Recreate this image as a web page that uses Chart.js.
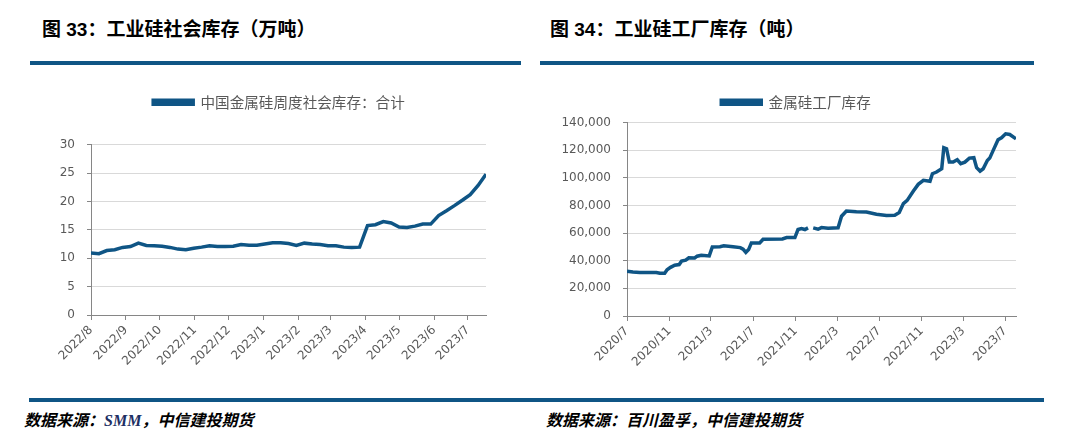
<!DOCTYPE html>
<html>
<head>
<meta charset="utf-8">
<script src="https://cdn.jsdelivr.net/npm/chart.js@4/dist/chart.umd.min.js"></script>
<style>
  body { margin: 0; width: 1074px; height: 438px; background: #fff; position: relative; overflow: hidden; }
  .title { position: absolute; top: 14px; font: bold 19px "Liberation Sans", "Noto Sans CJK SC", sans-serif; color: #000; white-space: nowrap; }
  .rule { position: absolute; height: 4px; background: #0f5585; }
  .source { position: absolute; top: 407px; font: italic bold 16px "Liberation Serif", "Noto Sans CJK SC", serif; color: #000; white-space: nowrap; }
  .source span { color: #1d2f63; }
  .box { position: absolute; }
</style>
</head>
<body>
<div class="title" style="left:42px">图 33：工业硅社会库存（万吨）</div>
<div class="title" style="left:550px">图 34：工业硅工厂库存（吨）</div>
<div class="rule" style="left:30px; top:61px; width:491px"></div>
<div class="rule" style="left:540px; top:61px; width:494px"></div>

<div class="box" style="left:40px; top:85px; width:480px; height:305px"><canvas id="socialChart"></canvas></div>
<div class="box" style="left:560px; top:85px; width:470px; height:305px"><canvas id="factoryChart"></canvas></div>

<div class="rule" style="left:29px; top:398px; width:1015px"></div>
<div class="source" style="left:24px">数据来源：<span>SMM</span>，中信建投期货</div>
<div class="source" style="left:546px">数据来源：百川盈孚，中信建投期货</div>

<script>
// 图33 社会库存, weekly from 2022-08-01 (万吨)
const socialStart = '2022-08-01';
const socialValues = [10.9, 10.8, 11.35, 11.5, 11.9, 12.05, 12.65, 12.25, 12.2, 12.1,
  11.9, 11.6, 11.5, 11.75, 11.95, 12.2, 12.05, 12.05, 12.1, 12.4,
  12.3, 12.3, 12.5, 12.7, 12.7, 12.6, 12.25, 12.65, 12.5, 12.4,
  12.2, 12.2, 11.95, 11.9, 11.95, 15.75, 15.9, 16.45, 16.2, 15.5,
  15.4, 15.65, 16.0, 16.0, 17.5, 18.35, 19.25, 20.2, 21.2, 22.8, 24.8];
const socialTicks = ['2022/8', '2022/9', '2022/10', '2022/11', '2022/12', '2023/1',
  '2023/2', '2023/3', '2023/4', '2023/5', '2023/6', '2023/7'];
const socialLabel = '中国金属硅周度社会库存：合计';

// 图34 工厂库存 (吨)
const factoryStart = '2020-07-01';
const factoryDates = ['2020-07-01', '2020-07-18', '2020-08-07', '2020-09-24', '2020-10-04', '2020-10-18',
  '2020-10-25', '2020-11-04', '2020-11-16', '2020-11-29', '2020-12-06', '2020-12-18', '2020-12-27',
  '2021-01-13', '2021-01-20', '2021-02-01', '2021-02-24', '2021-03-05', '2021-03-27', '2021-04-07',
  '2021-05-04', '2021-05-25', '2021-06-02', '2021-06-10', '2021-06-18', '2021-06-26', '2021-07-20',
  '2021-07-30', '2021-09-24', '2021-10-06', '2021-10-30', '2021-11-08', '2021-11-18', '2021-11-28',
  '2021-12-07', '2021-12-15', '2021-12-22', '2022-01-05', '2022-01-15', '2022-02-03', '2022-03-04',
  '2022-03-14', '2022-03-28', '2022-04-26', '2022-05-25', '2022-06-23', '2022-07-22', '2022-08-15',
  '2022-08-28', '2022-09-09', '2022-09-20', '2022-10-08', '2022-10-22', '2022-11-06', '2022-11-25',
  '2022-12-02', '2022-12-14', '2022-12-29', '2023-01-04', '2023-01-12', '2023-01-20', '2023-01-31',
  '2023-02-12', '2023-02-22', '2023-03-06', '2023-03-19', '2023-04-01', '2023-04-09', '2023-04-19',
  '2023-04-28', '2023-05-10', '2023-05-17', '2023-05-27', '2023-06-10', '2023-06-20', '2023-07-02',
  '2023-07-14', '2023-08-01'];
const factoryValues = [32500, 31800, 31500, 31500, 30900, 30900,
  33500, 35200, 36800, 37200, 39700, 40400, 42100,
  42000, 43300, 44000, 43500, 50000, 50200, 50800,
  50200, 49500, 48400, 46000, 48100, 52900, 52900,
  55600, 55800, 56800, 56800, 62600, 63300, 62600,
  63800, null, 63800, 62800, 64000, 63500, 63800,
  72200, 76000, 75500, 75300, 73600, 72700, 73000,
  74900, 81400, 83700, 90500, 95300, 98200, 97500,
  103000, 104200, 106600, 121800, 121100, 111400, 111400,
  113100, 110300, 111400, 114300, 114600, 107400, 104900,
  106600, 112600, 114300, 119900, 127600, 129000, 131900,
  131400, 128300];
const factoryTicks = ['2020/7', '2020/11', '2021/3', '2021/7', '2021/11', '2022/3',
  '2022/7', '2022/11', '2023/3', '2023/7'];
const factoryLabel = '金属硅工厂库存';

const lineColor = '#0f5585';
const textColor = '#595959';
const axisColor = '#868686';
const gridColor = '#d9d9d9';

function dayOf(str, base) {
  let p = str.split(/[-\/]/).map(Number);
  let b = base.split('-').map(Number);
  return (Date.UTC(p[0], p[1] - 1, p[2] || 1) - Date.UTC(b[0], b[1] - 1, b[2])) / 86400000;
}

// push the plot area down below the legend, and nudge the legend sideways
const legendTweak = {
  id: 'legendTweak',
  beforeInit(chart, args, opts) {
    const legend = chart.legend;
    const fit = legend.fit;
    legend.fit = function () {
      fit.bind(legend)();
      this.height += opts.extra || 0;
    };
    const draw = legend.draw;
    legend.draw = function () {
      const ctx = chart.ctx;
      ctx.save();
      ctx.translate(opts.dx || 0, 0);
      draw.apply(legend, arguments);
      ctx.restore();
    };
  }
};

function makeChart(id, points, label, tickLabels, base, xMax, yMax, yStep, yWidth, xHeight, extra, dx, padRight, yFormat) {
  const tickDays = tickLabels.map(t => dayOf(t, base));
  return new Chart(document.getElementById(id), {
    type: 'line',
    data: {
      datasets: [{
        label: label,
        data: points,
        borderColor: lineColor,
        backgroundColor: lineColor,
        borderWidth: 3.5,
        pointRadius: 0,
        tension: 0,
        spanGaps: false,
      }]
    },
    options: {
      responsive: true,
      maintainAspectRatio: false,
      animation: false,
      layout: { padding: { top: 0, right: padRight, left: 0, bottom: 0 } },
      plugins: {
        legend: {
          position: 'top',
          labels: {
            boxWidth: 40,
            boxHeight: 4,
            color: textColor,
            font: { family: '"Noto Sans CJK SC", sans-serif', size: 14.6 },
            padding: 10,
          }
        },
        legendTweak: { extra: extra, dx: dx },
        tooltip: { enabled: false },
      },
      scales: {
        x: {
          type: 'linear',
          min: 0,
          max: xMax,
          afterBuildTicks: (scale) => {
            scale.ticks = tickDays.map(v => ({ value: v }));
          },
          afterFit: (scale) => { scale.height = xHeight; },
          ticks: {
            autoSkip: false,
            minRotation: 45,
            maxRotation: 45,
            color: textColor,
            font: { family: '"DejaVu Sans", sans-serif', size: 12 },
            callback: (v) => tickLabels[tickDays.indexOf(v)],
          },
          grid: { drawOnChartArea: false, drawTicks: true, tickLength: 5, tickColor: axisColor },
          border: { color: axisColor, width: 1 },
        },
        y: {
          min: 0,
          max: yMax,
          afterFit: (scale) => { scale.width = yWidth; },
          ticks: {
            stepSize: yStep,
            color: textColor,
            padding: 12,
            font: { family: '"DejaVu Sans", sans-serif', size: 12 },
            callback: yFormat,
          },
          grid: { color: gridColor, lineWidth: 1, tickLength: 4, tickColor: axisColor },
          border: { color: axisColor, width: 1 },
        }
      }
    },
    plugins: [legendTweak]
  });
}

const socialPoints = socialValues.map((v, i) => ({ x: i * 7, y: v }));
makeChart('socialChart', socialPoints, socialLabel, socialTicks, socialStart,
  (socialValues.length - 1) * 7, 30, 5, 51, 75, 25, 16, 34, (v) => v);

const factoryPoints = factoryDates.map((d, i) => ({ x: dayOf(d, factoryStart), y: factoryValues[i] }));
makeChart('factoryChart', factoryPoints, factoryLabel, factoryTicks, factoryStart,
  dayOf(factoryDates[factoryDates.length - 1], factoryStart), 140000, 20000, 67, 74, 3, 8, 14,
  (v) => v.toLocaleString('en-US'));
</script>
</body>
</html>
